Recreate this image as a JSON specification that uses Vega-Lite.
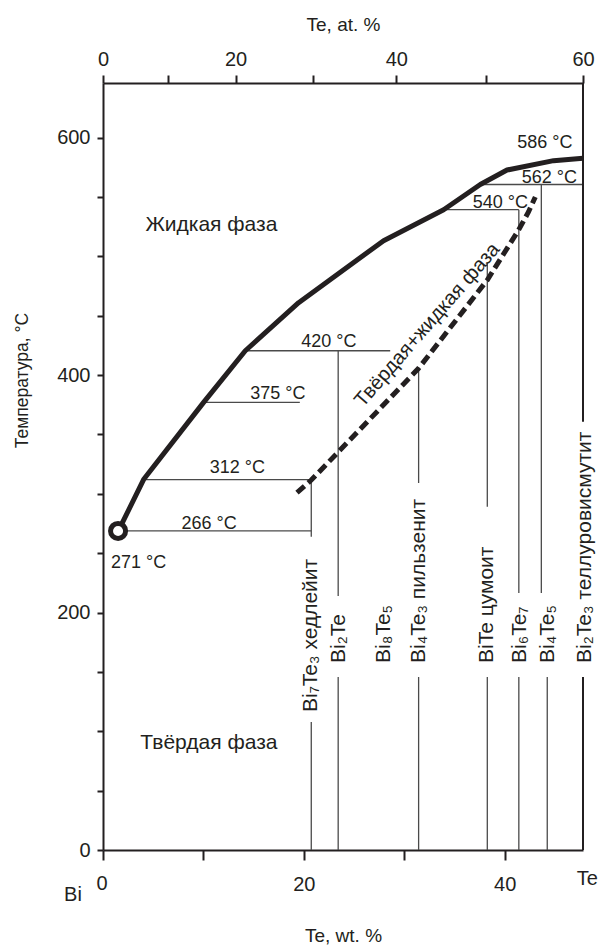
{
  "$schema": "https://vega.github.io/schema/vega-lite/v6.json",
  "width": 480,
  "height": 767,
  "autosize": {"type": "none"},
  "padding": {"left": 103, "top": 83, "right": 18, "bottom": 95},
  "background": "white",
  "config": {
    "font": "Liberation Sans",
    "view": {"stroke": null},
    "axis": {
      "grid": false,
      "domainColor": "#231f20",
      "tickColor": "#231f20",
      "labelColor": "#231f20",
      "titleColor": "#231f20",
      "domainWidth": 2,
      "tickWidth": 2,
      "labelFontSize": 20,
      "titleFontSize": 19,
      "titleFontWeight": "normal",
      "labelFont": "Liberation Sans",
      "titleFont": "Liberation Sans",
      "labelFlush": false,
      "labelOverlap": false
    }
  },
  "datasets": {
    "ties": [
      {"x1": 1.53, "x2": 20.74, "t": 268.7},
      {"x1": 4.04, "x2": 20.74, "t": 312},
      {"x1": 10.02, "x2": 19.6, "t": 377},
      {"x1": 14.17, "x2": 28.6, "t": 420.5},
      {"x1": 33.92, "x2": 41.41, "t": 539.3},
      {"x1": 37.57, "x2": 47.8, "t": 560.5}
    ],
    "compounds": [
      {"x": 20.74, "t1": 312, "t2": 263.9},
      {"x": 23.42, "t1": 420.5, "t2": 213.9},
      {"x": 31.43, "t1": 406.8, "t2": 309.1},
      {"x": 38.27, "t1": 494.4, "t2": 289.1},
      {"x": 41.41, "t1": 539.3, "t2": 216.5},
      {"x": 43.65, "t1": 560.5, "t2": 216.5},
      {"x": 20.74, "t1": 107.8, "t2": 0},
      {"x": 23.42, "t1": 145.7, "t2": 0},
      {"x": 31.43, "t1": 145.7, "t2": 0},
      {"x": 38.27, "t1": 145.7, "t2": 0},
      {"x": 41.41, "t1": 145.7, "t2": 0},
      {"x": 44.24, "t1": 145.7, "t2": 0}
    ],
    "frame": [
      {"x": 47.8, "t1": 646, "t2": 360.7},
      {"x": 47.8, "t1": 145.7, "t2": 0}
    ],
    "liquidus": [
      {"x": 1.53, "t": 268.7},
      {"x": 4.04, "t": 312},
      {"x": 10.02, "t": 377},
      {"x": 14.17, "t": 420.5},
      {"x": 19.48, "t": 461},
      {"x": 27.94, "t": 513.2},
      {"x": 33.92, "t": 539.3},
      {"x": 37.57, "t": 560.5},
      {"x": 40.23, "t": 572.7},
      {"x": 44.87, "t": 580.6},
      {"x": 47.8, "t": 582.6}
    ],
    "dashed": [
      {"x": 19.32, "t": 300.9},
      {"x": 20.74, "t": 311.6},
      {"x": 23.46, "t": 335.5},
      {"x": 31.43, "t": 405.7},
      {"x": 38.27, "t": 480.1},
      {"x": 41.39, "t": 522.2},
      {"x": 42.37, "t": 537.4},
      {"x": 43.05, "t": 550}
    ],
    "melt": [
      {"x": 1.5, "t": 268.7}
    ],
    "tlabels": [
      {"x": 10.56, "t": 270.4, "label": "266 °C"},
      {"x": 13.37, "t": 317.5, "label": "312 °C"},
      {"x": 17.41, "t": 379.9, "label": "375 °C"},
      {"x": 22.49, "t": 423.9, "label": "420 °C"},
      {"x": 39.56, "t": 540.7, "label": "540 °C"},
      {"x": 44.44, "t": 561.7, "label": "562 °C"},
      {"x": 44.01, "t": 591.3, "label": "586 °C"},
      {"x": 3.55, "t": 237.5, "label": "271 °C"}
    ],
    "phases": [
      {"x": 4.22, "t": 526.5, "label": "Жидкая фаза"},
      {"x": 3.72, "t": 90.1, "label": "Твёрдая фаза"}
    ],
    "slant": [
      {"x": 32.3, "t": 442.2, "label": "Твёрдая+жидкая фаза"}
    ],
    "minerals": [
      {"x": 20.74, "t": 116.2, "label": "Bi₇Te₃  хедлейит"},
      {"x": 23.5, "t": 157.5, "label": "Bi₂Te"},
      {"x": 28.01, "t": 157.5, "label": "Bi₈Te₅"},
      {"x": 31.45, "t": 157.5, "label": "Bi₄Te₃  пильзенит"},
      {"x": 38.2, "t": 157.5, "label": "BiTe  цумоит"},
      {"x": 41.5, "t": 157.5, "label": "Bi₆Te₇"},
      {"x": 44.3, "t": 157.5, "label": "Bi₄Te₅"},
      {"x": 48.0, "t": 157.5, "label": "Bi₂Te₃  теллуровисмутит"}
    ],
    "ends": [
      {"x": 48.23, "t": -24.5, "label": "Te"},
      {"x": -2.99, "t": -37.9, "label": "Bi"},
      {"x": -0.1, "t": -28.8, "label": "0"}
    ]
  },
  "resolve": {"axis": {"x": "independent", "y": "independent"}},
  "layer": [
    {
      "data": {"name": "ties"},
      "mark": {"type": "rule", "color": "#4a4a4a", "strokeWidth": 1.3},
      "encoding": {
        "x": {
          "field": "x1", "type": "quantitative",
          "scale": {"domain": [0, 47.8], "nice": false, "zero": false},
          "axis": {
            "orient": "bottom",
            "values": [0, 10, 20, 30, 40],
            "labelExpr": "(datum.value > 19 && datum.value < 21) ? '20' : (datum.value > 39 && datum.value < 41) ? '40' : ''",
            "labelFlush": false,
            "labelBound": false,
            "labelOverlap": false,
            "tickSize": 10,
            "labelPadding": 14,
            "title": "Te, wt. %",
            "titleX": 240,
            "titleY": 85,
            "titleAlign": "center",
            "titleBaseline": "middle"
          }
        },
        "x2": {"field": "x2"},
        "y": {
          "field": "t", "type": "quantitative",
          "scale": {"domain": [0, 646], "nice": false, "zero": false},
          "axis": {
            "orient": "left",
            "values": [0, 50, 100, 150, 200, 250, 300, 350, 400, 450, 500, 550, 600],
            "labelExpr": "datum.value % 200 === 0 ? datum.label : ''",
            "tickSize": 6,
            "labelPadding": 7,
            "title": "Температура, °C",
            "titleFontSize": 17.5,
            "titleX": -81,
            "titleY": 297,
            "titleAngle": 270,
            "titleAlign": "center",
            "titleBaseline": "middle"
          }
        }
      }
    },
    {
      "data": {"name": "compounds"},
      "mark": {"type": "rule", "color": "#4a4a4a", "strokeWidth": 1.3},
      "encoding": {
        "x": {"field": "x", "type": "quantitative", "scale": {"domain": [0, 47.8], "nice": false, "zero": false}, "axis": null},
        "y": {"field": "t1", "type": "quantitative", "scale": {"domain": [0, 646], "nice": false, "zero": false}, "axis": null},
        "y2": {"field": "t2"}
      }
    },
    {
      "data": {"name": "frame"},
      "mark": {"type": "rule", "color": "#231f20", "strokeWidth": 2},
      "encoding": {
        "x": {"field": "x", "type": "quantitative", "scale": {"domain": [0, 47.8], "nice": false, "zero": false}, "axis": null},
        "y": {"field": "t1", "type": "quantitative", "scale": {"domain": [0, 646], "nice": false, "zero": false}, "axis": null},
        "y2": {"field": "t2"}
      }
    },
    {
      "data": {"name": "liquidus"},
      "mark": {"type": "line", "color": "#231f20", "strokeWidth": 5, "strokeJoin": "round"},
      "encoding": {
        "x": {
          "field": "x", "type": "quantitative",
          "scale": {"domain": [0, 47.8], "nice": false, "zero": false},
          "axis": {
            "orient": "top",
            "values": [0, 6.47, 13.2, 20.91, 29.21, 38.14, 47.8],
            "labelExpr": "datum.value < 1 ? '0' : (datum.value > 13 && datum.value < 14) ? '20' : (datum.value > 29 && datum.value < 30) ? '40' : datum.value > 47 ? '60' : ''",
            "tickSize": 8,
            "labelPadding": 6,
            "title": "Te, at. %",
            "titleX": 240,
            "titleY": -59,
            "titleAlign": "center",
            "titleBaseline": "middle"
          }
        },
        "y": {"field": "t", "type": "quantitative", "scale": {"domain": [0, 646], "nice": false, "zero": false}, "axis": null}
      }
    },
    {
      "data": {"name": "dashed"},
      "mark": {"type": "line", "color": "#231f20", "strokeWidth": 5, "strokeDash": [10, 5], "strokeCap": "butt"},
      "encoding": {
        "x": {"field": "x", "type": "quantitative", "scale": {"domain": [0, 47.8], "nice": false, "zero": false}, "axis": null},
        "y": {"field": "t", "type": "quantitative", "scale": {"domain": [0, 646], "nice": false, "zero": false}, "axis": null}
      }
    },
    {
      "data": {"name": "melt"},
      "mark": {"type": "point", "shape": "circle", "size": 227, "filled": false, "fill": "white", "fillOpacity": 1, "stroke": "#231f20", "strokeWidth": 5, "opacity": 1},
      "encoding": {
        "x": {"field": "x", "type": "quantitative", "scale": {"domain": [0, 47.8], "nice": false, "zero": false}, "axis": null},
        "y": {"field": "t", "type": "quantitative", "scale": {"domain": [0, 646], "nice": false, "zero": false}, "axis": null}
      }
    },
    {
      "data": {"name": "tlabels"},
      "mark": {"type": "text", "fontSize": 18, "align": "center", "baseline": "alphabetic", "color": "#231f20"},
      "encoding": {
        "x": {"field": "x", "type": "quantitative", "scale": {"domain": [0, 47.8], "nice": false, "zero": false}, "axis": null},
        "y": {"field": "t", "type": "quantitative", "scale": {"domain": [0, 646], "nice": false, "zero": false}, "axis": null},
        "text": {"field": "label"}
      }
    },
    {
      "data": {"name": "phases"},
      "mark": {"type": "text", "fontSize": 21, "align": "left", "baseline": "middle", "color": "#231f20"},
      "encoding": {
        "x": {"field": "x", "type": "quantitative", "scale": {"domain": [0, 47.8], "nice": false, "zero": false}, "axis": null},
        "y": {"field": "t", "type": "quantitative", "scale": {"domain": [0, 646], "nice": false, "zero": false}, "axis": null},
        "text": {"field": "label"}
      }
    },
    {
      "data": {"name": "slant"},
      "mark": {"type": "text", "fontSize": 20, "align": "center", "baseline": "middle", "angle": 311, "color": "#231f20"},
      "encoding": {
        "x": {"field": "x", "type": "quantitative", "scale": {"domain": [0, 47.8], "nice": false, "zero": false}, "axis": null},
        "y": {"field": "t", "type": "quantitative", "scale": {"domain": [0, 646], "nice": false, "zero": false}, "axis": null},
        "text": {"field": "label"}
      }
    },
    {
      "data": {"name": "minerals"},
      "mark": {"type": "text", "fontSize": 21, "align": "left", "baseline": "middle", "angle": 270, "color": "#231f20"},
      "encoding": {
        "x": {"field": "x", "type": "quantitative", "scale": {"domain": [0, 47.8], "nice": false, "zero": false}, "axis": null},
        "y": {"field": "t", "type": "quantitative", "scale": {"domain": [0, 646], "nice": false, "zero": false}, "axis": null},
        "text": {"field": "label"}
      }
    },
    {
      "data": {"name": "ends"},
      "mark": {"type": "text", "fontSize": 20, "align": "center", "baseline": "middle", "color": "#231f20"},
      "encoding": {
        "x": {"field": "x", "type": "quantitative", "scale": {"domain": [0, 47.8], "nice": false, "zero": false}, "axis": null},
        "y": {"field": "t", "type": "quantitative", "scale": {"domain": [0, 646], "nice": false, "zero": false}, "axis": null},
        "text": {"field": "label"}
      }
    }
  ]
}
